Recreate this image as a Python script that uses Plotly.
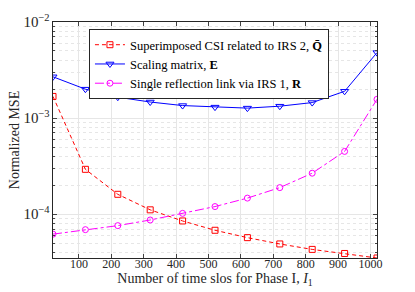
import plotly.graph_objects as go

x_slots = [20, 120, 220, 320, 420, 520, 620, 720, 820, 920, 1020]
mse_Q = [1.68e-3, 2.93e-4, 1.61e-4, 1.11e-4, 8.5e-5, 6.8e-5, 5.7e-5, 4.9e-5, 4.3e-5, 3.9e-5, 3.5e-5]
mse_E = [2.69e-3, 2.0e-3, 1.65e-3, 1.47e-3, 1.35e-3, 1.30e-3, 1.27e-3, 1.33e-3, 1.45e-3, 1.9e-3, 4.8e-3]
mse_R = [6.2e-5, 6.9e-5, 7.6e-5, 8.7e-5, 1.02e-4, 1.2e-4, 1.47e-4, 1.89e-4, 2.67e-4, 4.5e-4, 1.57e-3]

names = ["Superimposed CSI related to IRS 2, <b>Q̄</b>",
         "Scaling matrix, <b>E</b>",
         "Single reflection link via IRS 1, <b>R</b>"]

FONT = "Times New Roman, Liberation Serif, serif"

fig = go.Figure()
fig.add_trace(go.Scatter(x=x_slots, y=mse_Q, name=names[0], mode="lines+markers",
                         line=dict(color="#ff0000", width=1, dash="4px,3px"),
                         marker=dict(symbol="square-open", size=6, color="#ff0000", line=dict(width=1))))
fig.add_trace(go.Scatter(x=x_slots, y=mse_E, name=names[1], mode="lines+markers",
                         line=dict(color="#0000ff", width=1),
                         marker=dict(symbol="triangle-down-open", size=7, color="#0000ff", line=dict(width=1))))
fig.add_trace(go.Scatter(x=x_slots, y=mse_R, name=names[2], mode="lines+markers",
                         line=dict(color="#ff00ff", width=1, dash="dashdot"),
                         marker=dict(symbol="circle-open", size=6, color="#ff00ff", line=dict(width=1))))

fig.update_layout(
    width=415, height=292,
    margin=dict(l=53, r=38, t=22, b=34),
    paper_bgcolor="white", plot_bgcolor="white",
    font=dict(family=FONT, size=12, color="#262626"),
    legend=dict(x=0.111, y=0.97, xanchor="left", yanchor="top",
                bgcolor="white", bordercolor="#262626", borderwidth=1,
                font=dict(family=FONT, size=12.5, color="black"),
                tracegroupgap=0, itemwidth=30),
)
fig.update_xaxes(range=[20, 1020], tick0=0, dtick=100, ticks="inside", ticklen=4,
                 automargin=False, ticklabelstandoff=-5,
                 showline=True, linecolor="#262626", linewidth=1, mirror="ticks",
                 showgrid=True, gridcolor="#e6e6e6", gridwidth=1, zeroline=False,
                 tickfont=dict(family=FONT, size=12),
                 title=dict(text="Number of time slos for Phase I, <i>I</i><sub>1</sub>",
                            font=dict(family=FONT, size=14), standoff=0))
fig.update_yaxes(type="log", range=[-4.456, -2], dtick=1, exponentformat="power",
                 ticks="inside", ticklen=4, automargin=False,
                 showline=True, linecolor="#262626", linewidth=1, mirror="ticks",
                 showgrid=True, gridcolor="#e6e6e6", gridwidth=1,
                 minor=dict(showgrid=True, gridcolor="#e6e6e6", griddash="dot", ticks="inside", ticklen=2),
                 tickfont=dict(family=FONT, size=12),
                 title=dict(text="Normalized MSE", font=dict(family=FONT, size=14), standoff=0))

fig.write_html("out.html", post_script="document.body.style.margin='0';",
               config={"displayModeBar": False})
